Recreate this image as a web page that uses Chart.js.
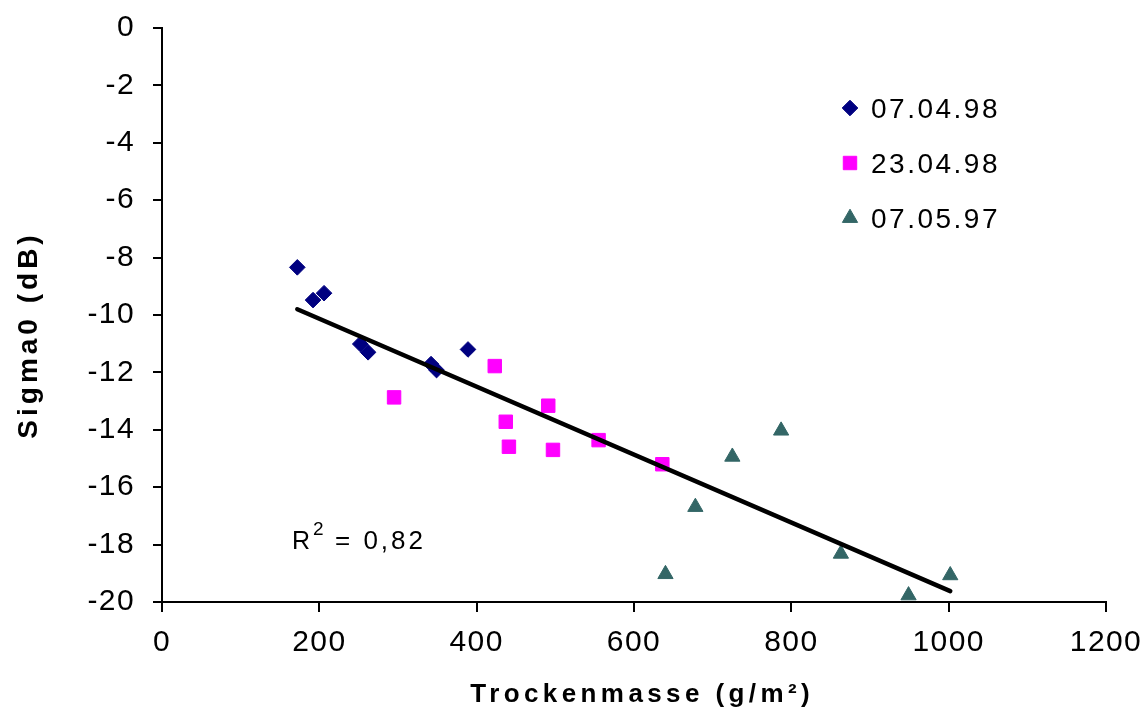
<!DOCTYPE html>
<html>
<head>
<meta charset="utf-8">
<script src="https://cdn.jsdelivr.net/npm/chart.js@4/dist/chart.umd.min.js"></script>
<style>
    body { margin: 0; background: #fff; }
    #wrap { width: 1147px; height: 713px; }
</style>
</head>
<body>
<div id="wrap"><canvas id="chart"></canvas></div>
<script>
// values: Trockenmasse (g/m²) against Sigma0 (dB)
const seriesNames = ['07.04.98', '23.04.98', '07.05.97']

const apr07X = [172, 192, 206, 252, 262, 342, 349, 389]
const apr07Y = [-8.34, -9.48, -9.24, -11.01, -11.30, -11.71, -11.92, -11.20]

const apr23X = [295, 423, 437, 441, 491, 497, 555, 636]
const apr23Y = [-12.87, -11.78, -13.72, -14.59, -13.16, -14.70, -14.36, -15.20]

const may07X = [640, 678, 725, 787, 863, 949, 1002]
const may07Y = [-19.03, -16.69, -14.94, -14.03, -18.32, -19.77, -19.07]

// regression line end points
const trendX = [172, 1002]
const trendY = [-9.80, -19.62]

const rSquared = '0,82'
const xTitle = 'Trockenmasse (g/m²)'
const yTitle = 'Sigma0 (dB)'

const FONT = '"Liberation Sans", Arial, sans-serif'

function toPoints (xs, ys) {
    return xs.map((x, i) => ({x: x, y: ys[i]}))
}

// spaced out text like the original export
const spacingPlugin = {
    id: 'spacing',
    beforeUpdate: (chart) => { chart.ctx.letterSpacing = '1.4px' },
    beforeDraw: (chart) => { chart.ctx.letterSpacing = '1.4px' }
}

// legend inside the plot, R² note and axis titles
const overlayPlugin = {
    id: 'overlay',
    afterDraw: (chart) => {
        const ctx = chart.ctx
        ctx.save()

        // legend
        ctx.font = '28px ' + FONT
        ctx.letterSpacing = '2.5px'
        ctx.textBaseline = 'middle'
        ctx.textAlign = 'left'
        chart.data.datasets.slice(1).forEach((ds, i) => {
            const y = 108 + i * 55
            ctx.fillStyle = ds.backgroundColor
            ctx.strokeStyle = ds.borderColor
            ctx.lineWidth = 1
            Chart.helpers.drawPoint(ctx, {pointStyle: ds.pointStyle, radius: ds.pointRadius, rotation: 0, borderWidth: 1}, 850, y)
            ctx.fillStyle = '#000'
            ctx.fillText(ds.label, 871, y + 2)
        })

        // R² = ...
        ctx.textBaseline = 'alphabetic'
        ctx.letterSpacing = '0px'
        ctx.font = '25px ' + FONT
        ctx.fillText('R', 292, 549)
        ctx.font = '19px ' + FONT
        ctx.fillText('2', 313, 535)
        ctx.font = '26px ' + FONT
        ctx.letterSpacing = '3px'
        ctx.fillText('= ' + rSquared, 335, 549)

        // axis titles
        ctx.font = 'bold 26px ' + FONT
        ctx.letterSpacing = '4.4px'
        let w = ctx.measureText(xTitle).width - 4.4
        ctx.fillText(xTitle, 640 - w / 2, 702)

        ctx.translate(37, 337)
        ctx.rotate(-Math.PI / 2)
        ctx.font = 'bold 28px ' + FONT
        ctx.letterSpacing = '4px'
        w = ctx.measureText(yTitle).width - 4
        ctx.fillText(yTitle, -w / 2, 0)

        ctx.restore()
    }
}

const chartDatas = {
    datasets: [
        {
            type: 'line',
            label: 'trend',
            data: toPoints(trendX, trendY),
            borderColor: '#000',
            borderWidth: 4.5,
            borderCapStyle: 'round',
            pointRadius: 0,
            fill: false,
            order: 0
        },
        {
            label: seriesNames[0],
            data: toPoints(apr07X, apr07Y),
            pointStyle: 'rectRot',
            pointRadius: 7.8,
            backgroundColor: '#000080',
            borderColor: '#000080',
            borderWidth: 1,
            order: 1
        },
        {
            label: seriesNames[1],
            data: toPoints(apr23X, apr23Y),
            pointStyle: 'rect',
            pointRadius: 9.5,
            backgroundColor: '#FF00FF',
            borderColor: '#FF00FF',
            borderWidth: 1,
            order: 1
        },
        {
            label: seriesNames[2],
            data: toPoints(may07X, may07Y),
            pointStyle: 'triangle',
            pointRadius: 8.8,
            backgroundColor: '#336666',
            borderColor: '#336666',
            borderWidth: 1,
            order: 1
        }
    ]
}

// keep the plot box where the reference has it, labels may overhang
function noPadding (scale) {
    scale.paddingTop = 0
    scale.paddingBottom = 0
    scale.paddingLeft = 0
    scale.paddingRight = 0
}

const configs = {
    type: 'scatter',
    data: chartDatas,
    plugins: [spacingPlugin, overlayPlugin],
    options: {
        responsive: true,
        maintainAspectRatio: false,
        animation: false,
        layout: { padding: { top: 28, right: 41, left: 0, bottom: 0 } },
        plugins: {
            legend: { display: false },
            tooltip: { enabled: false }
        },
        scales: {
            x: {
                type: 'linear',
                min: 0,
                max: 1200,
                afterFit: (scale) => { scale.height = 111; noPadding(scale) },
                ticks: {
                    stepSize: 200,
                    color: '#000',
                    padding: 13,
                    maxRotation: 0,
                    callback: (value) => String(value),
                    font: { family: FONT, size: 30 }
                },
                grid: { drawOnChartArea: false, drawTicks: true, tickLength: 10, color: '#000', lineWidth: 2 },
                border: { display: true, color: '#000', width: 2 }
            },
            y: {
                type: 'linear',
                min: -20,
                max: 0,
                afterFit: (scale) => { scale.width = 162; noPadding(scale) },
                ticks: {
                    stepSize: 2,
                    color: '#000',
                    padding: 18,
                    callback: (value) => String(value),
                    font: { family: FONT, size: 30 }
                },
                grid: { drawOnChartArea: false, drawTicks: true, tickLength: 9, color: '#000', lineWidth: 2 },
                border: { display: true, color: '#000', width: 2 }
            }
        }
    }
}

new Chart(document.getElementById('chart'), configs)
</script>
</body>
</html>
